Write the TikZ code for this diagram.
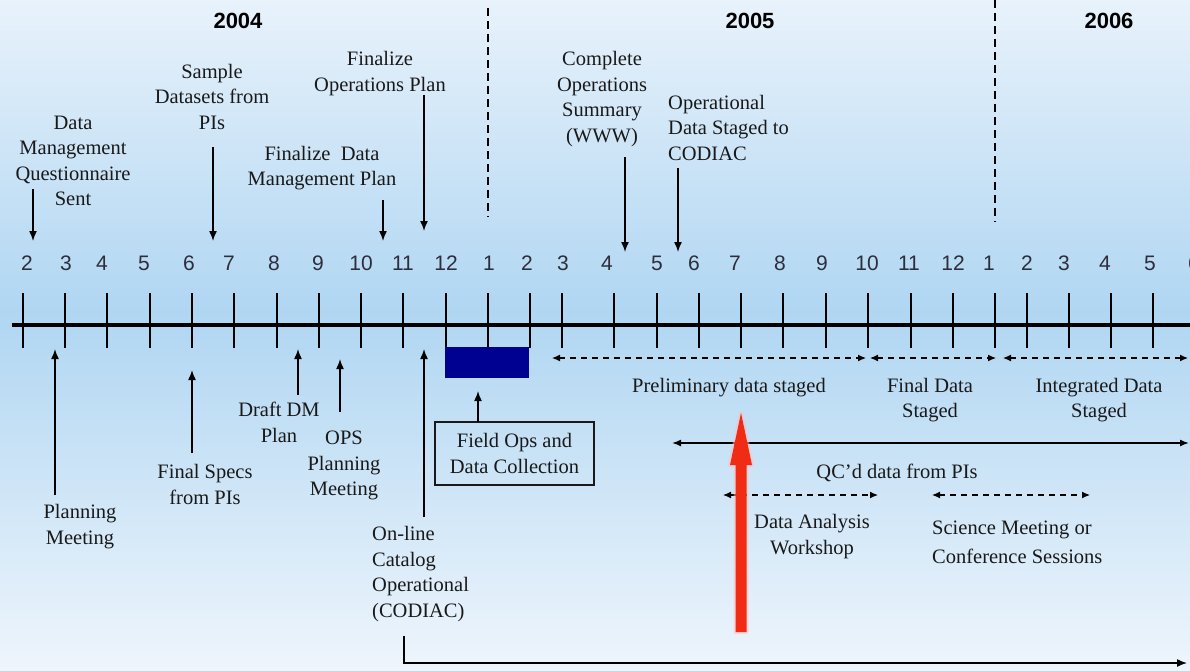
\documentclass[tikz,border=0pt]{standalone}
\usepackage{fontspec}
\setmainfont{Liberation Serif}
\newfontfamily\numfont{Liberation Sans}
\usetikzlibrary{arrows.meta}
\definecolor{bgtop}{RGB}{232,242,251}
\definecolor{bgmid}{RGB}{176,214,242}
\definecolor{bgbot}{RGB}{238,245,252}
\definecolor{navyc}{RGB}{0,0,145}
\definecolor{redc}{RGB}{240,45,20}
\definecolor{txtc}{RGB}{25,25,25}
\definecolor{numc}{RGB}{45,45,60}
\tikzset{
  lbl/.style={font=\fontsize{20.5}{25.5}\selectfont, align=center, inner sep=0pt, text=txtc},
  mon/.style={font=\numfont\fontsize{21}{21}\selectfont, text=numc, inner sep=0pt},
  yr/.style={font=\numfont\bfseries\fontsize{22}{22}\selectfont, inner sep=0pt},
  arr/.style={line width=1.5pt, -{Latex[length=10pt,width=8pt]}},
  darr/.style={line width=1.2pt, dash pattern=on 6pt off 5pt, {Latex[length=8pt,width=7pt]}-{Latex[length=8pt,width=7pt]}},
  sarr/.style={line width=1.5pt, {Latex[length=9pt,width=7pt]}-{Latex[length=9pt,width=7pt]}},
  tickline/.style={line width=1.5pt},
  yearsep/.style={line width=1.5pt, dash pattern=on 8pt off 5pt},
}
\begin{document}
\begin{tikzpicture}[x=1pt,y=-1pt]
\useasboundingbox (0,0) rectangle (1190,670);
\shade[top color=bgtop, bottom color=bgmid] (0,0) rectangle (1190,312);
\shade[top color=bgmid, bottom color=bgbot] (0,312) rectangle (1190,670);

% years
\node[yr] (y4) at (238,21) {2004};
\node[yr] (y5) at (750,21) {2005};
\node[yr] (y6) at (1109,21) {2006};
\coordinate (s1a) at (488,8); \coordinate (s1b) at (488,217);
\coordinate (s2a) at (995,0); \coordinate (s2b) at (995,222);
\draw[yearsep] (s1a) -- (s1b);
\draw[yearsep] (s2a) -- (s2b);

% months
\foreach \x/\m in {27/2,66/3,102/4,144/5,189/6,229/7,274/8,318/9,361/10,403/11,446/12,489/1,527/2,563/3,607/4,657/5,694/6,735/7,780/8,822/9,867/10,909/11,953/12,989/1,1027/2,1064/3,1105/4,1150/5,1194/6}
  \node[mon] (m\x) at (\x,263) {\m};

% ticks and axis
\foreach \x in {23,65,107,150,192,234,277,319,361,403,446,488,530,562,614,657,699,741,783,826,868,911,953,995,1027,1069,1111,1153}
  \draw[tickline] (\x,293) -- (\x,348);
\coordinate (ax1) at (12,325); \coordinate (ax2) at (1190,325);
\draw[line width=4pt] (ax1) -- (ax2);

% upper labels
\node[lbl] (q) at (73,161) {Data\\Management\\Questionnaire\\Sent};
\coordinate (q1) at (33,189); \coordinate (q2) at (33,241);
\draw[arr] (q1) -- (q2);
\node[lbl] (sample) at (212,96.5) {Sample\\Datasets from\\PIs};
\coordinate (sa1) at (213,147); \coordinate (sa2) at (213,241);
\draw[arr] (sa1) -- (sa2);
\node[lbl] (finops) at (380,73.5) {Finalize\\Operations Plan};
\coordinate (fo1) at (424,95); \coordinate (fo2) at (424,231);
\draw[arr] (fo1) -- (fo2);
\node[lbl] (findm) at (322,168) {Finalize\ \ Data\\Management Plan};
\coordinate (fd1) at (383,200); \coordinate (fd2) at (383,241);
\draw[arr] (fd1) -- (fd2);
\node[lbl] (complete) at (602,99) {Complete\\Operations\\Summary\\(WWW)};
\coordinate (co1) at (625,157); \coordinate (co2) at (625,252);
\draw[arr] (co1) -- (co2);
\node[lbl, align=left, anchor=west] (opdata) at (668,127.5) {Operational\\Data Staged to\\CODIAC};
\coordinate (od1) at (678,168); \coordinate (od2) at (678,252);
\draw[arr] (od1) -- (od2);

% lower labels
\node[lbl] (planning) at (80,526.5) {Planning\\Meeting};
\coordinate (pm1) at (55,495); \coordinate (pm2) at (55,349);
\draw[arr] (pm1) -- (pm2);
\node[lbl] (specs) at (205,484.5) {Final Specs\\from PIs};
\coordinate (fs1) at (192,453); \coordinate (fs2) at (192,370);
\draw[arr] (fs1) -- (fs2);
\node[lbl] (draft) at (279,422.5) {Draft DM\\Plan};
\coordinate (dd1) at (298,395); \coordinate (dd2) at (298,349);
\draw[arr] (dd1) -- (dd2);
\node[lbl] (ops) at (344,465.5) {OPS\\Planning\\Meeting};
\coordinate (op1) at (340,412); \coordinate (op2) at (340,359);
\draw[arr] (op1) -- (op2);
\node[lbl, align=left, anchor=west] (catalog) at (372,574) {On-line\\Catalog\\Operational\\(CODIAC)};
\coordinate (ca1) at (424,517); \coordinate (ca2) at (424,349);
\draw[arr] (ca1) -- (ca2);
\coordinate (cb1) at (404,636); \coordinate (cb2) at (1187,663);
\draw[arr] (cb1) |- (cb2);

% field ops
\node[fill=navyc, minimum width=84pt, minimum height=31pt, inner sep=0pt] (fieldbar) at (487,362.5) {};
\node[lbl, draw=txtc, line width=1.5pt, minimum width=159pt, minimum height=63pt] (field) at (514.5,453.5) {Field Ops and\\Data Collection};
\coordinate (fb1) at (478,422); \coordinate (fb2) at (478,391);
\draw[arr] (fb1) -- (fb2);

% staging ranges
\coordinate (p1) at (552,358); \coordinate (p2) at (866,358);
\coordinate (f1) at (870,358); \coordinate (f2) at (996,358);
\coordinate (i1) at (1003,358); \coordinate (i2) at (1188,358);
\draw[darr] (p1) -- (p2);
\draw[darr] (f1) -- (f2);
\draw[darr] (i1) -- (i2);
\node[lbl] (prelim) at (729,388) {Preliminary data staged};
\node[lbl] (final) at (930,400) {Final Data\\Staged};
\node[lbl] (integ) at (1099,400) {Integrated Data\\Staged};

\coordinate (qc1) at (672,443); \coordinate (qc2) at (1189,443);
\draw[sarr] (qc1) -- (qc2);
\node[lbl] (qc) at (897,473) {QC'd data from PIs};

\coordinate (w1) at (723,495); \coordinate (w2) at (878,495);
\draw[darr] (w1) -- (w2);
\node[lbl] (analysis) at (812,536.5) {Data Analysis\\Workshop};
\coordinate (sc1) at (932,495); \coordinate (sc2) at (1090,495);
\draw[darr] (sc1) -- (sc2);
\node[lbl, align=left, anchor=west] (science) at (932,542.5) {Science Meeting or\\[3pt]Conference Sessions};

% red arrow
\path[draw=red!25, line width=4pt, line join=round, opacity=0.5]
  (735.5,632) -- (735.5,465) -- (730,465) -- (741,413) -- (752,465) -- (746.5,465) -- (746.5,632) -- cycle;
\fill[redc] (735.5,632) -- (735.5,465) -- (730,465) -- (741,413) -- (752,465) -- (746.5,465) -- (746.5,632) -- cycle;
\end{tikzpicture}
\end{document}
